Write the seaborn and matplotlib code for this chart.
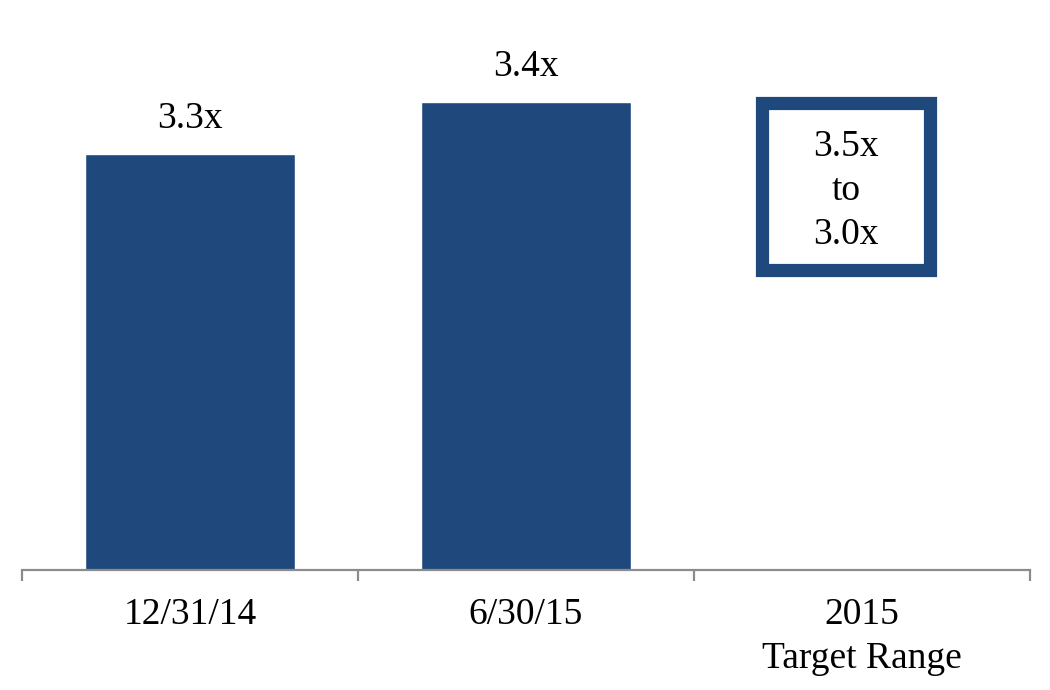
import matplotlib
matplotlib.use("Agg")
import matplotlib.pyplot as plt
import matplotlib.transforms as mtransforms
from matplotlib.patches import Rectangle
import seaborn as sns
import pandas as pd

categories = ["12/31/14", "6/30/15", "2015\nTarget Range"]
bar_categories = ["12/31/14", "6/30/15"]
bar_values = [3.3, 3.4]
bar_labels = ["3.3x", "3.4x"]
target_text = "3.5x\nto\n3.0x"

BLUE = "#1F497D"

sns.set_theme(style="white")
plt.rcParams["font.family"] = ["Liberation Serif", "DejaVu Serif"]

fig = plt.figure(figsize=(10.5, 6.9), dpi=100)
ax = fig.add_axes([22 / 1050, 1 - 570 / 690, 1008 / 1050, 570 / 690])

df = pd.DataFrame({"cat": pd.Categorical(bar_categories, categories=categories),
                   "val": bar_values})
sns.barplot(data=df, x="cat", y="val", color=BLUE, width=0.625, saturation=1,
            ax=ax, order=categories)

ax.set_xlim(-0.5, 2.5)
ax.set_ylim(2.5, 2.5 + 570 / 520)

for i, (v, lab) in enumerate(zip(bar_values, bar_labels)):
    ax.annotate(lab, (i, v), xytext=(0, 19), textcoords="offset points",
                ha="center", va="baseline", fontsize=27, color="black")

# target range box
trans = mtransforms.blended_transform_factory(ax.transData, ax.transAxes)
rect = Rectangle((1.701, 0.527), 2.202 - 1.701, 0.820 - 0.527, transform=trans,
                 fill=False, edgecolor=BLUE, linewidth=9.5, joinstyle="miter",
                 clip_on=False)
ax.add_patch(rect)
ax.text((1.701 + 2.202) / 2, 0.665, target_text, transform=trans,
        ha="center", va="center", fontsize=27, linespacing=1.36, color="black")

# axes styling
for s in ["top", "right", "left"]:
    ax.spines[s].set_visible(False)
ax.spines["bottom"].set_color("#8C8C8C")
ax.spines["bottom"].set_linewidth(1.6)
ax.set_yticks([])
ax.set_xlabel("")
ax.set_ylabel("")
ax.set_xticks([0, 1, 2])
ax.set_xticklabels(categories, fontsize=27, color="black", linespacing=1.36)
ax.set_xticks([-0.5, 0.5, 1.5, 2.5], minor=True)
ax.tick_params(axis="x", which="major", length=0, pad=20)
ax.tick_params(axis="x", which="minor", length=8, width=1.6, color="#8C8C8C",
               direction="out", bottom=True)

fig.savefig("out.png", dpi=100)
